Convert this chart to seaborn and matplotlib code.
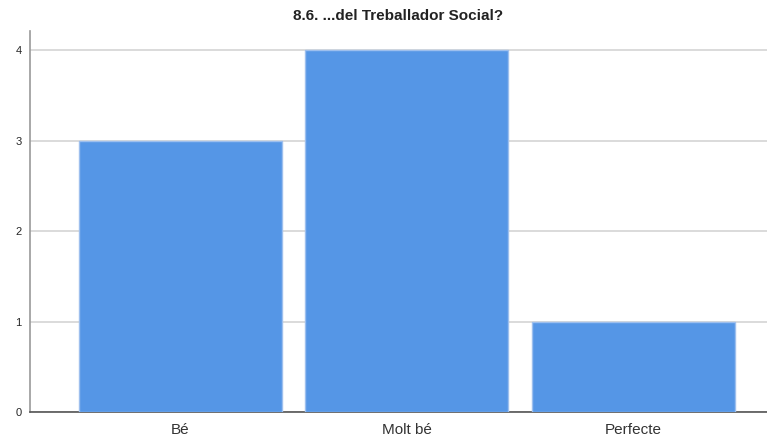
import pandas as pd
import seaborn as sns
import matplotlib.pyplot as plt

categories = ["Bé", "Molt bé", "Perfecte"]
counts = [3, 4, 1]
title = "8.6. ...del Treballador Social?"

df = pd.DataFrame({"Resposta": categories, "Recompte": counts})

sns.set_theme(style="white")
plt.rcParams["font.family"] = ["Liberation Sans", "DejaVu Sans"]

fig = plt.figure(figsize=(7.67, 4.37), dpi=100)
ax = fig.add_axes([30 / 767, 1 - 412 / 437, (767 - 30) / 767, (412 - 31) / 437])

sns.barplot(data=df, x="Resposta", y="Recompte", color="#5596E6",
            saturation=1, width=0.896, edgecolor="#9dbfee", linewidth=1,
            ax=ax, zorder=3)

ax.set_xlim(-0.664, 2.589)
ax.set_ylim(0, 4.21)
ax.set_yticks([0, 1, 2, 3, 4])
ax.yaxis.grid(True, color="#d4d4d4", linewidth=1.2, zorder=0)
ax.set_axisbelow(True)
ax.set_xlabel("")
ax.set_ylabel("")
ax.tick_params(axis="y", labelsize=8, length=0, pad=6)
ax.tick_params(axis="x", labelsize=11, length=0, labelcolor="#333333", pad=8)
for s in ["top", "right"]:
    ax.spines[s].set_visible(False)
ax.spines["left"].set_color("#999999")
ax.spines["bottom"].set_color("#555555")
ax.spines["left"].set_linewidth(1.2)
ax.spines["bottom"].set_linewidth(1.2)

fig.text(398 / 767, 1 - 16 / 437, title, ha="center", va="center",
         fontsize=11, fontweight="bold", color="#222222")

fig.savefig("out.png", dpi=100)
